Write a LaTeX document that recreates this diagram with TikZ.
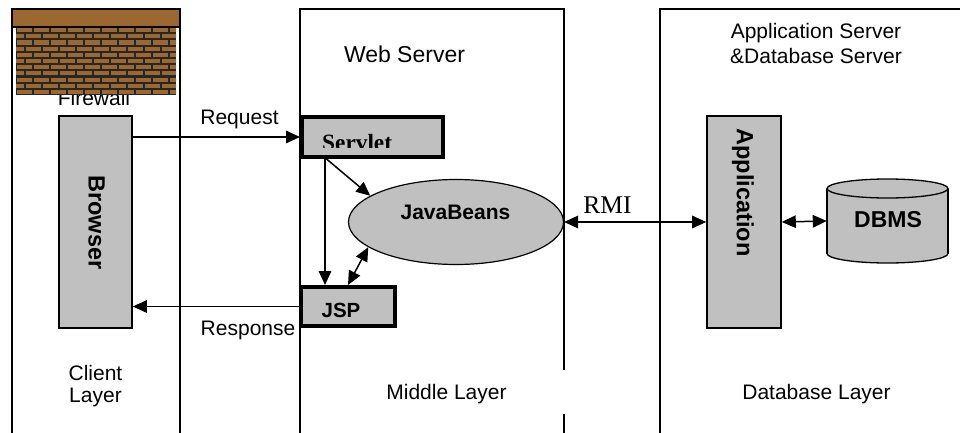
\documentclass[tikz,border=0pt]{standalone}
\usepackage{fontspec}
\setmainfont{Liberation Sans}
\newfontfamily\timesfont{Liberation Serif}
\usetikzlibrary{arrows.meta,shapes.geometric}

\definecolor{boxgray}{HTML}{C0C0C0}
\definecolor{brick}{HTML}{9C6832}

\tikzset{
  panel/.style={line width=2pt},
  graybox/.style={draw, fill=boxgray, line width=1.6pt, inner sep=0pt},
  heavybox/.style={draw, fill=boxgray, line width=4pt, inner sep=0pt},
  lbl/.style={inner sep=0pt, font=\fontsize{21}{25}\selectfont},
  boldlbl/.style={inner sep=0pt, font=\fontsize{23.5}{28}\selectfont\bfseries},
  arr/.style={line width=1.5pt, -{Triangle[length=14pt,width=12.5pt]}},
  darr/.style={line width=1.5pt, {Triangle[length=14pt,width=12.5pt]}-{Triangle[length=14pt,width=12.5pt]}}
}

\begin{document}
\begin{tikzpicture}[x=1pt,y=-1pt]
\useasboundingbox (0,0) rectangle (960,433);

% tier panels, open at the bottom
\draw[panel] (12,433) -- (12,9) -- (180,9) -- (180,433);
\draw[panel] (300,433) -- (300,9.5) -- (564,9.5) -- (564,370);
\draw[panel] (564,414) -- (564,433);
\draw[panel] (660,433) -- (660,9.5) -- (964,9.5);

% firewall caption sits behind the wall
\node[lbl, anchor=base] (fwtext) at (94,106) {Firewall};

% brick wall
\begin{scope}
  \clip (16,27) rectangle (176,95);
  \fill[black!85] (16,27) rectangle (176,95);
  \foreach \r in {0,...,10} {
    \pgfmathsetmacro{\yy}{27+\r*6.18}
    \pgfmathsetmacro{\off}{mod(\r,2)*8.5}
    \foreach \k in {-1,...,10} {
      \pgfmathsetmacro{\xx}{16+\off+\k*17}
      \fill[brick] (\xx+1,\yy+1.1) rectangle (\xx+16,\yy+5.2);
    }
  }
\end{scope}
\draw[fill=brick, line width=1.5pt] (12,9) rectangle (180,27);

% headings
\node[lbl, font=\fontsize{23}{27}\selectfont, anchor=base] (webserver) at (404.5,63) {Web Server};
\node[lbl, anchor=base] (appserver1) at (816,38.5) {Application Server};
\node[lbl, anchor=base] (appserver2) at (816,63.5) {\&Database Server};

% client tier
\node[graybox, minimum width=73pt, minimum height=212pt] (browser) at (95.5,222) {};
\node[boldlbl, rotate=-90] (browsertext) at (96.5,222.5) {Browser};
\node[lbl, anchor=base] (client1) at (95.5,380) {Client};
\node[lbl, anchor=base] (client2) at (95.5,402) {Layer};

% middle tier
\node[heavybox, minimum width=141pt, minimum height=40pt] (servlet) at (372.5,137) {};
\begin{scope}
  \clip (300,115) rectangle (445,147);
  \node[inner sep=0pt, anchor=base west, font=\timesfont\fontsize{23.3}{28}\selectfont\bfseries] (servlettext) at (322,150.5) {Servlet};
\end{scope}
\node[heavybox, minimum width=94pt, minimum height=39pt] (jsp) at (348,306.5) {};
\node[boldlbl, font=\fontsize{20.5}{25}\selectfont\bfseries, anchor=base] (jsptext) at (341,317.3) {JSP};
\node[ellipse, draw, fill=boxgray, line width=1.2pt, minimum width=215pt, minimum height=85pt, inner sep=0pt] (javabeans) at (456,222) {};
\node[boldlbl, font=\fontsize{21}{25}\selectfont\bfseries, anchor=base] (jbtext) at (455.5,219) {JavaBeans};
\node[lbl, anchor=base] (middle) at (446.5,399.5) {Middle Layer};

% database tier
\node[graybox, minimum width=74pt, minimum height=212pt] (app) at (744,222) {};
\node[boldlbl, rotate=-90] (apptext) at (743,192.5) {Application};
\node[ellipse, draw, fill=boxgray, line width=1.3pt, minimum width=121pt, minimum height=19pt, inner sep=0pt] (dbmsbase) at (887.5,253.5) {};
\fill[boxgray] (827,188.5) rectangle (948,253.5);
\draw[line width=1.3pt] (827,188.5) -- (827,253.5) (948,188.5) -- (948,253.5);
\node[ellipse, draw, fill=boxgray, line width=1.3pt, minimum width=121pt, minimum height=19pt, inner sep=0pt] (dbmstop) at (887.5,188.5) {};
\node[draw=none, minimum width=121pt, minimum height=84pt, inner sep=0pt] (dbms) at (887.5,221) {};
\node[boldlbl, font=\fontsize{23}{27}\selectfont\bfseries, anchor=base] (dbmstext) at (888,227.7) {DBMS};
\node[lbl, anchor=base] (dblayer) at (816.5,399.5) {Database Layer};

% connectors
\draw[arr] (servlet.west -| browser.east) -- (servlet.west);
\node[lbl, anchor=base] (request) at (239.5,124.5) {Request};
\draw[arr] (jsp.west) -- (jsp.west -| browser.east);
\node[lbl, anchor=base east] (response) at (295.5,335) {Response};
\draw[arr] ([xshift=-47.5pt]servlet.south) -- ([xshift=-47.5pt]servlet.south |- jsp.north);
\draw[arr] ([xshift=-46pt]servlet.south) -- (javabeans.163);
\draw[darr] (jsp.north) -- (javabeans.196);
\draw[darr] (javabeans.east) -- (app.west);
\node[inner sep=0pt, anchor=base, font=\timesfont\fontsize{25.5}{30}\selectfont] (rmi) at (607.5,213.3) {RMI};
\draw[darr] (app.east) -- (dbms.west);

\end{tikzpicture}
\end{document}
